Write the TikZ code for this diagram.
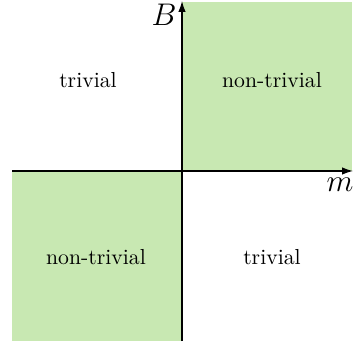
\documentclass[tikz,border=0pt]{standalone}
\usetikzlibrary{arrows.meta}
\definecolor{qgreen}{RGB}{200,232,178}
\tikzset{
  quad/.style={fill=qgreen, draw=none},
  axis/.style={line width=0.55pt, -{Latex[length=5pt,width=3.4pt]}},
  lbl/.style={font=\normalsize},
  axlbl/.style={font=\Large}
}
\begin{document}
\begin{tikzpicture}[x=0.46pt,y=-0.46pt]
\useasboundingbox (0,0) rectangle (356,344);
\fill[quad] (182,2) rectangle (352,171);
\fill[quad] (12,171) rectangle (182,341);
\coordinate (xs) at (12,171);
\coordinate (xe) at (353,171);
\coordinate (ys) at (182,341);
\coordinate (ye) at (182,1);
\draw[axis] (xs) -- (xe);
\draw[axis] (ys) -- (ye);
\node[axlbl] (B) at (164,15) {$B$};
\node[axlbl] (m) at (340,185) {$m$};
\node[lbl] (tl) at (88,80) {trivial};
\node[lbl] (tr) at (272,80) {non-trivial};
\node[lbl] (bl) at (96,257) {non-trivial};
\node[lbl] (br) at (272,257) {trivial};
\end{tikzpicture}
\end{document}
